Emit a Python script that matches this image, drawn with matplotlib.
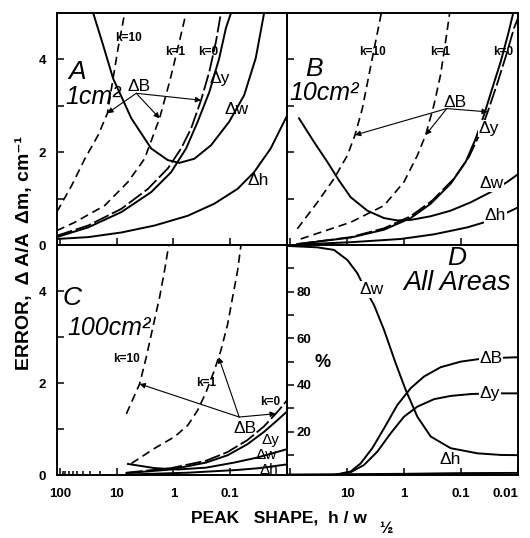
import numpy as np
import matplotlib
matplotlib.use("Agg")
import matplotlib.pyplot as plt
from matplotlib.ticker import FixedLocator, NullLocator

plt.rcParams['font.family'] = ['Liberation Sans', 'DejaVu Sans']

# ---- panel A, 1 cm2 (error vs peak shape h/w1/2) ----
a_k10_x = [114, 62.4, 36.4, 21.2, 14.6, 12.1, 9.48, 7.24]
a_k10_y = [0.71, 1.28, 1.86, 2.37, 2.84, 3.45, 4.24, 5.0]
a_k1_x = [114, 54.6, 16.3, 6.33, 3.23, 1.76, 1.17, 0.84, 0.60]
a_k1_y = [0.31, 0.49, 0.85, 1.36, 1.86, 2.73, 3.52, 4.24, 5.0]
a_k0_x = [114, 31.8, 8.28, 2.82, 1.26, 0.734, 0.49, 0.327, 0.233, 0.178, 0.146]
a_k0_y = [0.20, 0.42, 0.78, 1.21, 1.65, 2.08, 2.51, 3.12, 3.74, 4.39, 5.0]
a_dy_x = [114, 31.8, 8.28, 2.47, 1.10, 0.60, 0.374, 0.233, 0.156, 0.119, 0.097]
a_dy_y = [0.17, 0.38, 0.71, 1.14, 1.57, 2.08, 2.66, 3.30, 4.03, 4.68, 5.0]
a_dw_x = [26.0, 17.4, 11.6, 5.53, 2.47, 1.26, 0.785, 0.428, 0.218, 0.104, 0.0568, 0.0355, 0.0253]
a_dw_y = [5.0, 4.31, 3.59, 2.73, 2.08, 1.83, 1.77, 1.86, 2.15, 2.66, 3.23, 4.03, 5.0]
a_dh_x = [114, 31.8, 8.28, 2.15, 0.561, 0.191, 0.0743, 0.038, 0.0194, 0.00986]
a_dh_y = [0.13, 0.17, 0.27, 0.42, 0.63, 0.89, 1.21, 1.57, 2.08, 2.80]

# ---- panel B, 10 cm2 ----
b_k10_x = [74.3, 33.1, 16.9, 9.87, 7.24, 5.38, 4.11, 3.14, 2.50]
b_k10_y = [0.35, 0.92, 1.43, 1.93, 2.37, 2.94, 3.67, 4.39, 5.0]
b_k1_x = [65.0, 8.63, 2.24, 1.0, 0.583, 0.417, 0.298, 0.228, 0.186, 0.158]
b_k1_y = [0.13, 0.49, 0.85, 1.36, 1.93, 2.37, 3.02, 3.67, 4.39, 5.0]
b_k0_x = [74.3, 8.63, 2.24, 0.764, 0.318, 0.133, 0.0724, 0.0465, 0.0331, 0.0231, 0.0164, 0.0117, 0.0092]
b_k0_y = [0.02, 0.17, 0.36, 0.62, 0.96, 1.43, 1.90, 2.40, 2.91, 3.48, 4.06, 4.68, 5.0]
b_dy_x = [74.3, 8.63, 2.24, 0.764, 0.340, 0.152, 0.0828, 0.0553, 0.0395, 0.0282, 0.0201, 0.0150, 0.0121]
b_dy_y = [0.02, 0.16, 0.33, 0.58, 0.89, 1.32, 1.79, 2.29, 2.80, 3.38, 3.95, 4.53, 5.0]
b_dw_x = [69.5, 37.9, 22.1, 13.8, 8.63, 4.40, 2.24, 1.31, 0.764, 0.340, 0.152, 0.0676, 0.0302, 0.0154, 0.0096]
b_dw_y = [2.73, 2.22, 1.79, 1.39, 1.03, 0.74, 0.58, 0.53, 0.54, 0.62, 0.74, 0.92, 1.14, 1.36, 1.54]
b_dh_x = [74.3, 8.63, 1.14, 0.298, 0.0774, 0.0302, 0.0096]
b_dh_y = [0.01, 0.06, 0.13, 0.23, 0.38, 0.53, 0.82]

# ---- panel C, 100 cm2 ----
c_k10_x = [6.76, 3.95, 3.02, 2.31, 1.76, 1.44, 1.22]
c_k10_y = [1.33, 1.98, 2.56, 3.21, 3.86, 4.44, 4.98]
c_k1_x = [5.53, 2.15, 0.96, 0.561, 0.374, 0.267, 0.191, 0.146, 0.111, 0.091, 0.0743, 0.065]
c_k1_y = [0.25, 0.58, 0.83, 1.08, 1.41, 1.80, 2.27, 2.71, 3.28, 3.86, 4.44, 4.98]
c_k0_x = [6.76, 1.10, 0.267, 0.111, 0.0497, 0.0253, 0.0148, 0.00885]
c_k0_y = [0.05, 0.15, 0.31, 0.50, 0.76, 1.06, 1.37, 1.70]
c_dy_x = [6.76, 1.10, 0.267, 0.111, 0.0497, 0.0253, 0.0148, 0.00885]
c_dy_y = [0.04, 0.12, 0.27, 0.43, 0.67, 0.94, 1.19, 1.44]
c_dw_x = [6.33, 2.15, 0.84, 0.267, 0.0851, 0.0331, 0.00885]
c_dw_y = [0.24, 0.15, 0.12, 0.16, 0.27, 0.38, 0.58]
c_dh_x = [6.76, 0.561, 0.0743, 0.0302, 0.00885]
c_dh_y = [0.01, 0.05, 0.11, 0.15, 0.24]

# ---- panel D, all areas, % share of each error ----
d_dw_x = [111, 33.1, 16.9, 9.87, 6.59, 4.71, 3.36, 2.24, 1.40, 0.935, 0.583, 0.340, 0.152, 0.0517, 0.0201, 0.0096]
d_dw_y = [99.6, 99.0, 97.9, 93.6, 87.9, 80.7, 74.3, 63.6, 49.3, 37.9, 26.4, 17.9, 12.9, 10.7, 10.0, 9.9]
d_db_x = [16.9, 8.63, 5.75, 3.6, 2.24, 1.31, 0.764, 0.446, 0.228, 0.101, 0.0395, 0.0096]
d_db_y = [1.4, 2.9, 6.4, 12.9, 21.4, 31.4, 38.6, 43.6, 47.6, 50.0, 51.4, 51.9]
d_dy_x = [16.9, 8.63, 5.03, 2.94, 1.71, 1.0, 0.583, 0.298, 0.152, 0.0676, 0.0302, 0.0096]
d_dy_y = [1.4, 2.6, 5.7, 11.4, 19.3, 26.4, 30.7, 33.9, 35.3, 36.1, 36.4, 36.4]
d_dh_x = [113, 1.0, 0.1, 0.0096]
d_dh_y = [1.6, 1.9, 2.2, 2.3]

x_ticks = [100, 10, 1, 0.1, 0.01]
x_labels_left = ['100', '10', '1', '0.1', '']
x_labels_right = ['', '10', '1', '0.1', '0.01']
err_ticks = [0, 1, 2, 3, 4]
err_labels = ['0', '', '2', '', '4']
pct_ticks = [10, 20, 30, 40, 50, 60, 70, 80, 90]
pct_labels = ['', '20', '', '40', '', '60', '', '80', '']

DASH = (0, (5, 3))
DASH0 = (0, (9, 2))
SOLID_LW = 1.4
BOLD = dict(fontweight='bold')
KSIZE = 8.5


def on_curve(xs, ys, x):
    # y of a curve at x (log-x), used to land arrow tips on the line
    return float(np.interp(np.log10(x), np.log10(xs)[::-1], np.array(ys)[::-1]))


def arrow(ax, tail, tip):
    ax.annotate('', xy=tip, xytext=tail,
                arrowprops=dict(arrowstyle='-|>', color='k', lw=0.8,
                                mutation_scale=8, shrinkA=0, shrinkB=0))


def label(ax, s, x, y, size=12.5, box=False, **kw):
    t = ax.text(x, y, s, ha='center', va='center', fontsize=size, **kw)
    if box:
        t.set_bbox(dict(facecolor='white', edgecolor='none', pad=0.5))
    return t


fig = plt.figure(figsize=(5.3, 5.38), dpi=100)
axA = fig.add_axes([0.1075, 0.5446, 0.4340, 0.4312])
axB = fig.add_axes([0.5415, 0.5446, 0.4358, 0.4312])
axC = fig.add_axes([0.1075, 0.1171, 0.4340, 0.4275])
axD = fig.add_axes([0.5415, 0.1171, 0.4358, 0.4275])

for ax in (axA, axB, axC, axD):
    ax.set_xscale('log')
    ax.set_xlim(113, 0.01)
    ax.set_xticks(x_ticks)
    ax.xaxis.set_minor_locator(NullLocator())
    for s in ax.spines.values():
        s.set_linewidth(1.4)
    ax.tick_params(which='both', direction='in', width=1.1)
    ax.tick_params(which='major', length=5)
    ax.tick_params(which='minor', length=3)

for ax in (axA, axB, axC):
    ax.set_ylim(0, 5)
    ax.set_yticks(err_ticks)
axD.set_ylim(1.4, 100)
axD.set_yticks(pct_ticks)

axA.set_xticklabels([])
axB.set_xticklabels([])
axB.set_yticklabels([])
axA.set_yticklabels(err_labels, fontsize=9.5, **BOLD)
axC.set_yticklabels(err_labels, fontsize=9.5, **BOLD)
axA.tick_params(axis='y', pad=8)
axC.tick_params(axis='y', pad=8)
axC.set_xticklabels(x_labels_left, fontsize=9.5, **BOLD)
axD.set_xticklabels(x_labels_right, fontsize=9.5, **BOLD)
axC.tick_params(axis='x', pad=9)
axD.tick_params(axis='x', pad=9)
axD.get_xticklabels()[-1].set_ha('right')
axC.xaxis.set_minor_locator(FixedLocator([20, 30, 40, 50, 60, 70, 80, 90]))
axD.set_yticklabels(pct_labels, fontsize=9.5, **BOLD)
axD.tick_params(axis='y', pad=-7)
for t in axD.get_yticklabels():
    t.set_ha('left')

# ---- A ----
axA.plot(a_k10_x, a_k10_y, 'k', ls=DASH, lw=1.2)
axA.plot(a_k1_x, a_k1_y, 'k', ls=DASH, lw=1.2)
axA.plot(a_k0_x, a_k0_y, 'k', ls=DASH0, lw=1.3)
axA.plot(a_dy_x, a_dy_y, 'k', lw=SOLID_LW)
axA.plot(a_dw_x, a_dw_y, 'k', lw=SOLID_LW)
axA.plot(a_dh_x, a_dh_y, 'k', lw=SOLID_LW)
tail = (4.52, 3.27)
for xs, ys, tx in ((a_k10_x, a_k10_y, 14.6), (a_k1_x, a_k1_y, 1.76), (a_k0_x, a_k0_y, 0.327)):
    arrow(axA, tail, (tx, on_curve(xs, ys, tx)))
label(axA, 'k=10', 6.15, 4.47, size=KSIZE, **BOLD)
label(axA, 'k=1', 0.935, 4.16, size=KSIZE, **BOLD)
label(axA, 'k=0', 0.243, 4.16, size=KSIZE, **BOLD)
label(axA, 'ΔB', 4.11, 3.42)
label(axA, 'Δy', 0.156, 3.59)
label(axA, 'Δw', 0.0764, 2.91)
label(axA, 'Δh', 0.0323, 1.39)
axA.text(0.086, 0.745, 'A', transform=axA.transAxes, ha='center', va='center',
         fontsize=19, style='italic')
axA.text(0.035, 0.64, '1cm²', transform=axA.transAxes, ha='left', va='center',
         fontsize=18, style='italic')

# ---- B ----
axB.plot(b_k10_x, b_k10_y, 'k', ls=DASH, lw=1.2)
axB.plot(b_k1_x, b_k1_y, 'k', ls=DASH, lw=1.2)
axB.plot(b_k0_x, b_k0_y, 'k', ls=DASH0, lw=1.3)
axB.plot(b_dy_x, b_dy_y, 'k', lw=SOLID_LW)
axB.plot(b_dw_x, b_dw_y, 'k', lw=SOLID_LW)
axB.plot(b_dh_x, b_dh_y, 'k', lw=SOLID_LW)
tail = (0.178, 2.94)
for xs, ys, tx in ((b_k10_x, b_k10_y, 7.24), (b_k1_x, b_k1_y, 0.417), (b_k0_x, b_k0_y, 0.034)):
    arrow(axB, tail, (tx, on_curve(xs, ys, tx)))
label(axB, 'k=10', 3.6, 4.17, size=KSIZE, **BOLD)
label(axB, 'k=1', 0.228, 4.17, size=KSIZE, **BOLD)
label(axB, 'k=0', 0.0183, 4.17, size=KSIZE, **BOLD)
label(axB, 'ΔB', 0.129, 3.08)
label(axB, 'Δy', 0.0323, 2.51, box=True)
label(axB, 'Δw', 0.0294, 1.32, box=True)
label(axB, 'Δh', 0.0247, 0.63, box=True)
axB.text(0.117, 0.758, 'B', transform=axB.transAxes, ha='center', va='center',
         fontsize=19, style='italic')
axB.text(0.012, 0.655, '10cm²', transform=axB.transAxes, ha='left', va='center',
         fontsize=18, style='italic')

# ---- C ----
axC.plot(c_k10_x, c_k10_y, 'k', ls=DASH, lw=1.2)
axC.plot(c_k1_x, c_k1_y, 'k', ls=DASH, lw=1.2)
axC.plot(c_k0_x, c_k0_y, 'k', ls=DASH0, lw=1.3)
axC.plot(c_dy_x, c_dy_y, 'k', lw=SOLID_LW)
axC.plot(c_dw_x, c_dw_y, 'k', lw=SOLID_LW)
axC.plot(c_dh_x, c_dh_y, 'k', lw=SOLID_LW)
tail = (0.0695, 1.26)
for xs, ys, tx in ((c_k10_x, c_k10_y, 3.95), (c_k1_x, c_k1_y, 0.16), (c_k0_x, c_k0_y, 0.0158)):
    arrow(axC, tail, (tx, on_curve(xs, ys, tx)))
label(axC, 'k=10', 6.68, 2.53, size=KSIZE, **BOLD)
label(axC, 'k=1', 0.264, 1.99, size=KSIZE, **BOLD)
label(axC, 'k=0', 0.02, 1.58, size=KSIZE, **BOLD)
label(axC, 'ΔB', 0.0553, 1.01)
label(axC, 'Δy', 0.0195, 0.76, size=11)
label(axC, 'Δw', 0.023, 0.43, size=11)
label(axC, 'Δh', 0.021, 0.11, size=11)
axC.text(0.065, 0.77, 'C', transform=axC.transAxes, ha='center', va='center',
         fontsize=19, style='italic')
axC.text(0.045, 0.64, '100cm²', transform=axC.transAxes, ha='left', va='center',
         fontsize=18, style='italic')

# ---- D ----
axD.plot(d_dw_x, d_dw_y, 'k', lw=SOLID_LW)
axD.plot(d_db_x, d_db_y, 'k', lw=SOLID_LW)
axD.plot(d_dy_x, d_dy_y, 'k', lw=SOLID_LW)
axD.plot(d_dh_x, d_dh_y, 'k', lw=SOLID_LW)
label(axD, 'Δw', 3.7, 81, box=True)
label(axD, 'ΔB', 0.0298, 51.4, box=True)
label(axD, 'Δy', 0.031, 36.4, box=True)
label(axD, 'Δh', 0.156, 7.9)
axD.text(0.736, 0.943, 'D', transform=axD.transAxes, ha='center', va='center',
         fontsize=19, style='italic')
axD.text(0.735, 0.835, 'All Areas', transform=axD.transAxes, ha='center', va='center',
         fontsize=19.5, style='italic')
axD.text(0.156, 0.49, '%', transform=axD.transAxes, ha='center', va='center',
         fontsize=13, **BOLD)

fig.text(0.047, 0.53, 'ERROR,  Δ A/A  Δm, cm⁻¹', rotation=90, ha='center', va='center',
         fontsize=14, **BOLD)
fig.text(0.527, 0.037, 'PEAK   SHAPE,  h / w', ha='center', va='center',
         fontsize=12.5, **BOLD)
fig.text(0.728, 0.018, '½', ha='center', va='center', fontsize=11.5, **BOLD)

fig.savefig('out.png', dpi=100)
